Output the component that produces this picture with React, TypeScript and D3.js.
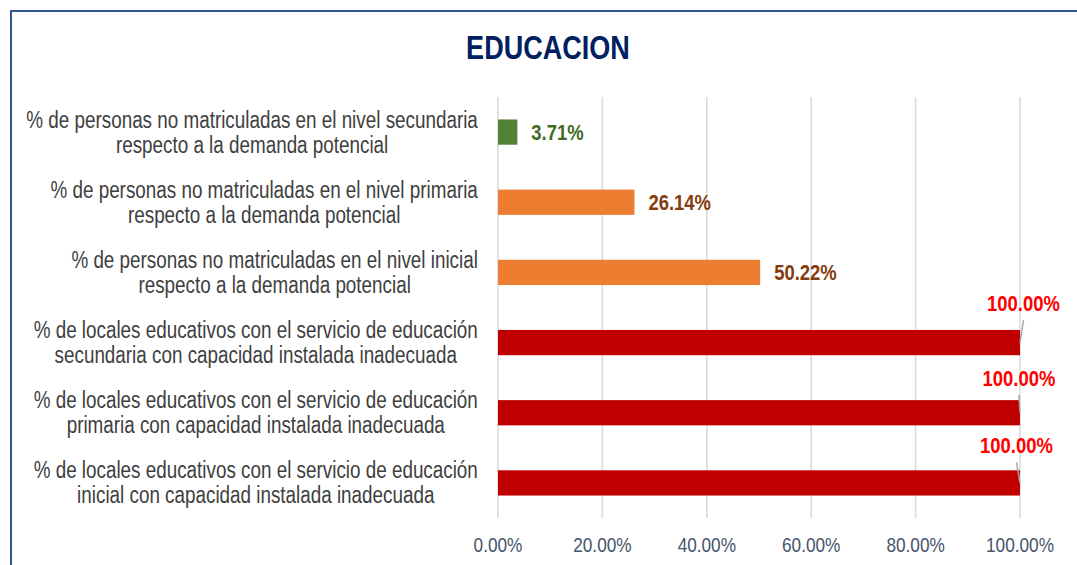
import React from "react";
import * as d3 from "d3";

const title = "EDUCACION";
const categories: string[][] = [
  ["% de personas no matriculadas en el nivel secundaria", "respecto a la demanda potencial"],
  ["% de personas no matriculadas en el nivel primaria", "respecto a la demanda potencial"],
  ["% de personas no matriculadas en el nivel inicial", "respecto a la demanda potencial"],
  ["% de locales educativos con el servicio de educación", "secundaria con capacidad instalada inadecuada"],
  ["% de locales educativos con el servicio de educación", "primaria con capacidad instalada inadecuada"],
  ["% de locales educativos con el servicio de educación", "inicial con capacidad instalada inadecuada"],
];
const values: number[] = [0.0371, 0.2614, 0.5022, 1.0, 1.0, 1.0];
const tickValues: number[] = [0, 0.2, 0.4, 0.6, 0.8, 1.0];

// styles
const barColors = ["#548235", "#ED7D31", "#ED7D31", "#C00000", "#C00000", "#C00000"];
const labelColors = ["#3F6B25", "#843C0C", "#843C0C", "#FF0000", "#FF0000", "#FF0000"];
// manual label offsets (dx of center, dy of baseline) for labels placed above the bar end; null = right of bar
const labelOffsets: ([number, number] | null)[] = [null, null, null, [3.5, -31.5], [-1, -26.5], [-3.5, -29.5]];

const FONT = "'Liberation Sans', Arial, sans-serif";
const SX = 0.82; // narrow look
const W = 1077;
const H = 565;
const catFontSize = 23;

let _ctx: CanvasRenderingContext2D | null = null;
function measure(text: string, font: string): number {
  if (!_ctx) {
    const c = document.createElement("canvas");
    _ctx = c.getContext("2d");
  }
  if (!_ctx) return text.length * 9;
  _ctx.font = font;
  return _ctx.measureText(text).width;
}

type NProps = {
  x: number;
  y: number;
  anchor?: "start" | "middle" | "end";
  size: number;
  fill: string;
  bold?: boolean;
  children: React.ReactNode;
};
function NText({ x, y, anchor = "start", size, fill, bold, children }: NProps) {
  return (
    <text
      transform={`translate(${x},${y}) scale(${SX},1)`}
      textAnchor={anchor}
      fontFamily={FONT}
      fontSize={size}
      fontWeight={bold ? "bold" : "normal"}
      fill={fill}
    >
      {children}
    </text>
  );
}

export default function App() {
  const x = d3.scaleLinear().domain([0, 1]).range([498, 1020]);
  const y = d3
    .scaleBand<number>()
    .domain(d3.range(categories.length))
    .range([97, 518])
    .paddingInner(0.64)
    .paddingOuter(0.32);
  const fmt = d3.format(".2%");
  const catFont = `${catFontSize}px 'Liberation Sans'`;
  const labelRight = 478;

  return (
    <div style={{ position: "absolute", left: 0, top: 0, width: W, height: H, overflow: "hidden" }}>
      <svg width={W} height={H} style={{ display: "block", background: "#fff" }}>
        <rect x={0} y={0} width={W} height={H} fill="#fff" />
        <rect x={11} y={11} width={W + 20} height={H + 20} fill="#fff" stroke="#2F5597" strokeWidth={2} />
        <NText x={548} y={59} anchor="middle" size={33} fill="#002060" bold>
          {title}
        </NText>
        {/* gridlines */}
        {tickValues.map((t, i) => (
          <line key={i} x1={x(t)} x2={x(t)} y1={97} y2={518} stroke="#D9D9D9" strokeWidth={1.5} />
        ))}
        {/* axis labels */}
        {tickValues.map((t, i) => (
          <NText key={i} x={x(t)} y={552} anchor="middle" size={21} fill="#44546A">
            {fmt(t)}
          </NText>
        ))}
        {/* category labels */}
        {categories.map((lines, i) => {
          const cy = (y(i) as number) + y.bandwidth() / 2;
          const maxW = Math.max(...lines.map((l) => measure(l, catFont))) * SX;
          const cx = labelRight - maxW / 2;
          return (
            <g key={i}>
              {lines.map((l, j) => (
                <NText key={j} x={cx} y={cy - 12.5 + j * 25 + 0.35 * catFontSize} anchor="middle" size={catFontSize} fill="#404040">
                  {l}
                </NText>
              ))}
            </g>
          );
        })}
        {/* bars */}
        {values.map((v, i) => (
          <rect
            key={i}
            x={x(0)}
            y={y(i) as number}
            width={x(v) - x(0)}
            height={y.bandwidth()}
            fill={barColors[i]}
          />
        ))}
        {/* value labels */}
        {values.map((v, i) => {
          const cy = (y(i) as number) + y.bandwidth() / 2;
          const off = labelOffsets[i];
          if (!off) {
            return (
              <NText key={i} x={x(v) + 14} y={cy + 8} size={22.5} fill={labelColors[i]} bold>
                {fmt(v)}
              </NText>
            );
          }
          const lx = x(v) + off[0];
          const ly = cy + off[1];
          return (
            <g key={i}>
              <line x1={lx} y1={ly + 9} x2={x(v)} y2={cy} stroke="#A6A6A6" strokeWidth={1.5} />
              <NText x={lx} y={ly} anchor="middle" size={22.5} fill={labelColors[i]} bold>
                {fmt(v)}
              </NText>
            </g>
          );
        })}
      </svg>
    </div>
  );
}
